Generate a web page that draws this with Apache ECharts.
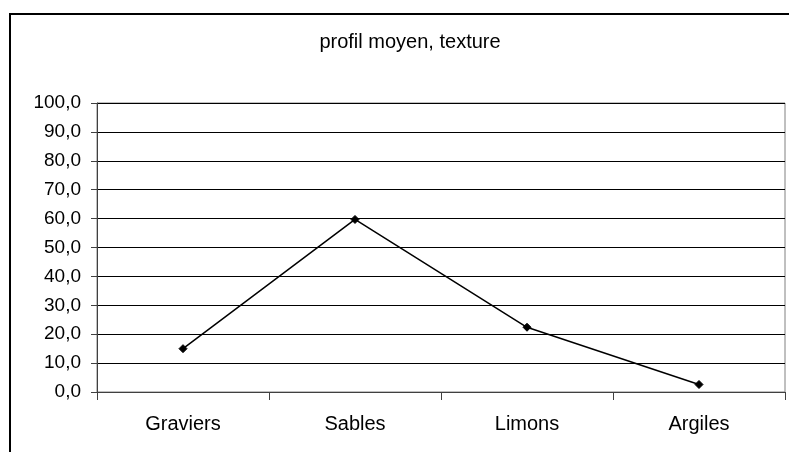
<!DOCTYPE html>
<html>
<head>
<meta charset="utf-8">
<script src="https://cdn.jsdelivr.net/npm/echarts@6/dist/echarts.min.js"></script>
<style>
  html, body { margin: 0; padding: 0; background: #fff; }
  #chart { width: 789px; height: 452px; }
</style>
</head>
<body>
<div id="chart"></div>
<script>
// Average texture profile by particle-size class (%)
const categories = ['Graviers', 'Sables', 'Limons', 'Argiles'];
const texture = [15.0, 59.7, 22.4, 2.6];
const chartTitle = 'profil moyen, texture';

const chart = echarts.init(document.getElementById('chart'), null, { renderer: 'canvas' });

chart.setOption({
  animation: false,
  backgroundColor: '#fff',
  textStyle: { fontFamily: 'Liberation Sans, Arial, sans-serif' },
  title: {
    text: chartTitle,
    left: 405,
    top: 27,
    textAlign: 'center',
    textStyle: { fontSize: 20, fontWeight: 'normal', color: '#000', fontFamily: 'Liberation Sans, Arial, sans-serif' }
  },
  graphic: [
    {
      // outer chart frame
      type: 'rect',
      shape: { x: 10, y: 14, width: 900, height: 600 },
      style: { fill: 'none', stroke: '#000', lineWidth: 2 },
      silent: true
    }
  ],
  grid: {
    left: 97, top: 103, width: 688, height: 289,
    show: true, borderColor: '#808080', borderWidth: 1, backgroundColor: 'transparent'
  },
  xAxis: {
    type: 'category',
    data: categories,
    boundaryGap: true,
    axisLine: { lineStyle: { color: '#404040', width: 1 } },
    axisTick: { show: true, length: 8, inside: false, lineStyle: { color: '#404040' } },
    axisLabel: { color: '#000', fontSize: 20, margin: 22 },
    splitLine: { show: false }
  },
  yAxis: {
    type: 'value',
    min: 0, max: 100, interval: 10,
    axisLine: { show: true, lineStyle: { color: '#404040', width: 1 } },
    axisTick: { show: true, length: 6, lineStyle: { color: '#404040' } },
    axisLabel: {
      color: '#000', fontSize: 19, margin: 16,
      formatter: v => v.toFixed(1).replace('.', ',')
    },
    splitLine: { show: true, lineStyle: { color: '#000', width: 1 } }
  },
  series: [{
    type: 'line',
    data: texture,
    symbol: 'diamond',
    symbolSize: 8,
    showAllSymbol: true,
    lineStyle: { color: '#000', width: 1.5 },
    itemStyle: { color: '#000', borderColor: '#000' }
  }]
});
</script>
</body>
</html>
